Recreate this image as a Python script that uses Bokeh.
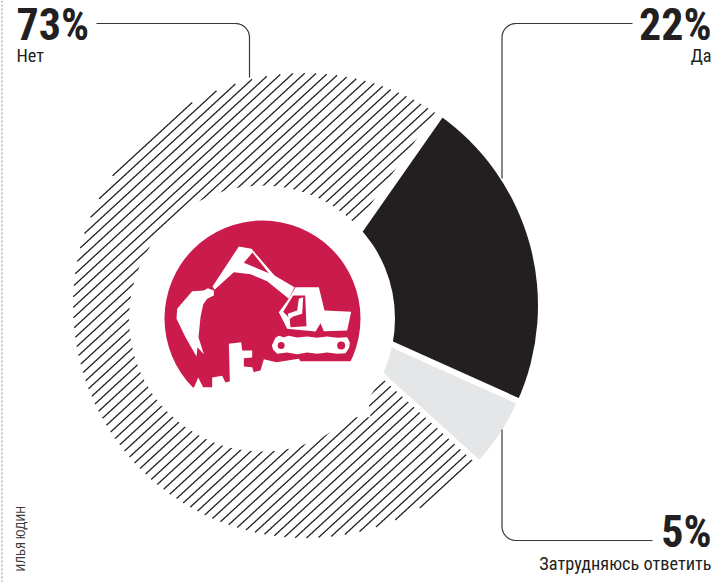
import numpy as np
from bokeh.plotting import figure
from bokeh.models import Range1d
from bokeh.core.properties import value
from bokeh.embed import file_html
from bokeh.resources import INLINE

# ---- data
categories = ["Да", "Затрудняюсь ответить", "Нет"]
values = [22, 5, 73]
percent_labels = ["22%", "5%", "73%"]
start_deg = 35.0  # clockwise from top

W, H = 722, 582
BLACK, GREY, RED = "#231f20", "#e5e6e7", "#cb1b4c"
FONT = value("Roboto Condensed")

def Y(v):
    return H - np.asarray(v, dtype=float)

p = figure(width=W, height=H, x_range=Range1d(0, W), y_range=Range1d(0, H),
           output_backend="svg", toolbar_location=None, min_border=0,
           outline_line_color=None)
p.xaxis.visible = False
p.yaxis.visible = False
p.xgrid.visible = False
p.ygrid.visible = False

CX, CY, R = 305.0, 305.0, 232.5
HX, HY, HR = 261.5, 318.0, 133.0
LX, LY, LR = 262.0, 318.0, 98.0

cum = np.concatenate([[0], np.cumsum(values)])
edges = start_deg + np.array(cum) * 3.6  # clockwise degrees from top
to_math = lambda d: np.radians(90 - d)

# --- hatched sector (73%) : lines clipped to the sector
a0, a1 = edges[2], edges[3]
xs, ys = [], []
SLOPE, STEP = 0.92, 10.6
for c in np.arange(-400, 1300, STEP):
    t = np.arange(CX - R - 2, CX + R + 2, 0.25)
    py = c - SLOPE * t
    dx, dy = t - CX, py - CY
    rr = np.hypot(dx, dy)
    ang = np.degrees(np.arctan2(dx, -dy)) % 360
    ang2 = ang.copy()
    ang2[ang2 < a0] += 360
    m = (rr <= R) & (ang2 >= a0) & (ang2 <= a1)
    if not m.any():
        continue
    idx = np.where(m)[0]
    for seg in np.split(idx, np.where(np.diff(idx) > 1)[0] + 1):
        xs.append(t[seg].tolist())
        ys.append(Y(py[seg]).tolist())
p.multi_line(xs, ys, line_color=BLACK, line_width=1.3)

# --- solid sectors
p.wedge(x=[CX, CX], y=[Y(CY)] * 2, radius=R,
        start_angle=[to_math(edges[1]), to_math(edges[2])],
        end_angle=[to_math(edges[0]), to_math(edges[1])],
        fill_color=[BLACK, GREY], line_color=None)

# --- white separators
sep = edges[:3]
p.segment(x0=[CX] * 3, y0=[Y(CY)] * 3,
          x1=(CX + (R + 4) * np.sin(np.radians(sep))).tolist(),
          y1=(Y(CY) + (R + 4) * np.cos(np.radians(sep))).tolist(),
          line_color="white", line_width=[9, 6, 5])

# --- central hole and emblem
p.scatter(x=[HX], y=[Y(HY)], size=2 * HR, marker="circle", fill_color="white", line_color=None)
p.scatter(x=[LX], y=[Y(LY)], size=2 * LR, marker="circle", fill_color=RED, line_color=None)

# emblem outlines (crop coordinates, 3x)
ground = [(120,480),(132,468),(143,441),(158,470),(185,470),(185,441),(215,436),(225,456),(238,452),
          (235,340),(272,335),(275,360),(305,360),(305,381),(280,383),(280,408),(305,410),(310,425),
          (330,420),(340,386),(378,395),(445,385),(450,392),(640,392),(660,560),(80,560)]
boom = [(186,168),(265,48),(303,55),(372,135),(432,170),(415,205),(350,152),(300,131),(250,125),(192,178)]
boom_hole = [(306,66),(355,128),(280,97)]
bucket = [(125,182),(160,180),(172,173),(190,180),(190,195),(170,205),(158,222),(150,260),(144,320),
          (160,371),(141,350),(138,378),(105,320),(78,265),(80,235)]
cab = [(435,170),(505,170),(522,240),(602,244),(590,300),(520,302),(510,278),(495,303),(410,295),(385,245),(415,205)]
window = [(428,195),(464,195),(468,287),(420,290),(417,263),(398,244)]
seat = [(445,205),(458,200),(455,250),(428,258),(415,268),(412,250),(440,240)]
track = [(375,322),(385,316),(400,320),(415,316),(440,321),(470,318),(500,322),(530,318),(560,322),(590,320),
         (598,335),(596,352),(585,368),(560,370),(530,366),(500,370),(470,366),(440,371),(410,366),(380,370),
         (368,358),(364,345),(370,332)]

def shape(pts, color):
    a = np.array(pts, dtype=float)
    p.patch(150 + a[:, 0] / 3, Y(230 + a[:, 1] / 3), fill_color=color, line_color=None)

shape(ground, "white")
shape(boom, "white")
shape(boom_hole, RED)
shape(bucket, "white")
shape(cab, "white")
shape(window, RED)
shape(seat, "white")
shape(track, "white")
p.scatter(x=[150 + 392 / 3, 150 + 572 / 3], y=[Y(230 + 345 / 3)] * 2, size=[7, 8], marker="circle",
          fill_color=RED, line_color=None)

# --- leader lines with rounded corners
def leader(x0, y0, xc, yc, x1, y1, r=14):
    sx = np.sign(xc - x0)
    sy = np.sign(y1 - yc)
    th = np.linspace(0, np.pi / 2, 16)
    ax = xc - sx * r + sx * r * np.sin(th)
    ay = yc + sy * r - sy * r * np.cos(th)
    px = np.concatenate([[x0], ax, [x1]])
    py = np.concatenate([[y0], ay, [y1]])
    p.line(px, Y(py), line_color="#3a3738", line_width=1.2)

leader(96, 23, 249, 23, 249, 77)
leader(632, 23, 501.5, 23, 501.5, 178)
leader(652, 540, 501.5, 540, 501.5, 429)

# --- texts
def txt(x, y, s, size, align, style="normal", angle=0.0, color=BLACK):
    p.text(x=[x], y=[Y(y)], text=[s], text_font=FONT, text_font_size=f"{size}px",
           text_font_style=style, text_align=align, text_baseline="alphabetic",
           text_color=color, angle=angle)

txt(16, 24, percent_labels[2], 44, "left", "bold")
txt(16, 54.5, categories[2], 18.3, "left")
txt(711, 24, percent_labels[0], 44, "right", "bold")
txt(711, 54.5, categories[0], 18.3, "right")
txt(711, 531.5, percent_labels[1], 44, "right", "bold")
txt(711, 562.5, categories[1], 18.3, "right")
txt(20, 571, "ИЛЬЯ ЮДИН", 12.5, "left", angle=np.pi / 2, color="#3a3738")

# --- dotted page rule
p.line([1.5, 1.5], [0, H], line_color="#8a8a8a", line_width=1, line_dash="2 2")

open("out.html", "w").write(file_html(p, INLINE))
